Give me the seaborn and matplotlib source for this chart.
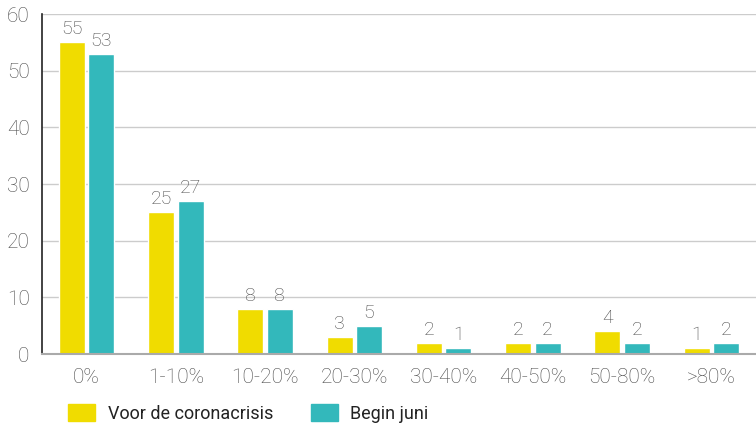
import pandas as pd
import matplotlib.pyplot as plt
import seaborn as sns

categories = ['0%', '1-10%', '10-20%', '20-30%', '30-40%', '40-50%', '50-80%', '>80%']
voor = [55, 25, 8, 3, 2, 2, 4, 1]
juni = [53, 27, 8, 5, 1, 2, 2, 2]
series = ['Voor de coronacrisis', 'Begin juni']
colors = ['#F0DC00', '#33B8BB']

df = pd.DataFrame({
    'cat': categories * 2,
    'value': voor + juni,
    'serie': [series[0]] * len(categories) + [series[1]] * len(categories),
})

sns.set_style('white')
plt.rcParams['font.family'] = ['Roboto', 'DejaVu Sans']

fig = plt.figure(figsize=(7.56, 4.26), dpi=100)
ax = fig.add_axes([0.0556, 0.169, 0.9444, 0.798])

sns.barplot(data=df, x='cat', y='value', hue='serie', palette=colors,
            width=0.66, gap=0.12, ax=ax, legend=False, saturation=1)

for cont in ax.containers:
    ax.bar_label(cont, padding=3, fontsize=14, color='#4a4a4a', fontweight='light')

ax.set_ylim(0, 60)
ax.set_xlim(-0.5, 7.5)
ax.set_yticks(range(0, 61, 10))
ax.yaxis.grid(True, color='#cccccc', linewidth=1)
ax.set_axisbelow(True)
ax.set_xlabel('')
ax.set_ylabel('')
ax.tick_params(axis='both', labelsize=15, colors='#4a4a4a', length=0)
ax.tick_params(axis='x', pad=10)
ax.tick_params(axis='y', pad=9)
for lbl in ax.get_xticklabels() + ax.get_yticklabels():
    lbl.set_fontweight('light')
for s in ['top', 'right']:
    ax.spines[s].set_visible(False)
ax.spines['left'].set_color('#222222')
ax.spines['left'].set_linewidth(1.2)
ax.spines['bottom'].set_color('#aaaaaa')
ax.spines['bottom'].set_linewidth(1.5)

handles = [plt.Rectangle((0, 0), 1, 1, color=c) for c in colors]
fig.legend(handles, series, loc='center left', bbox_to_anchor=(0.069, 0.03),
           ncol=2, frameon=False, fontsize=13, handlelength=1.5, handleheight=1.1,
           columnspacing=2.1, handletextpad=0.67, labelcolor='#222222')

fig.savefig('out.png', dpi=100)
